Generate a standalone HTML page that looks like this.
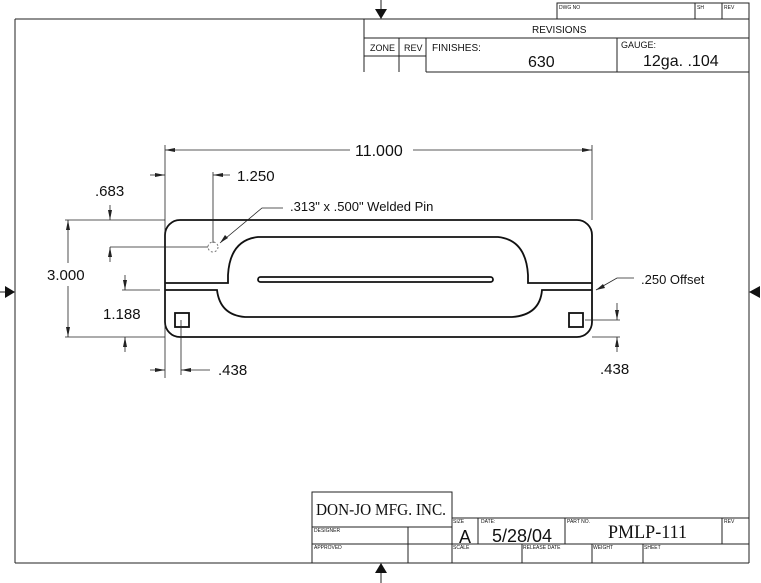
<!DOCTYPE html>
<html><head><meta charset="utf-8"><style>
html,body{margin:0;padding:0;background:#fff;}
svg{display:block;}
text{font-family:"Liberation Sans",sans-serif;fill:#111;}
.c{font-family:"DejaVu Sans Condensed","Liberation Sans",sans-serif;}
.s{font-family:"Liberation Serif",serif;}
</style></head><body>
<svg width="761" height="583" viewBox="0 0 761 583" xmlns="http://www.w3.org/2000/svg">
<g stroke="#222" stroke-width="1" fill="none">
<line x1="15" y1="19" x2="364" y2="19"/>
<line x1="15" y1="19" x2="15" y2="563"/>
<line x1="749" y1="3" x2="749" y2="563"/>
<line x1="15" y1="563" x2="749" y2="563"/>
<rect x="557" y="3" width="192" height="16"/>
<line x1="695" y1="3" x2="695" y2="19"/>
<line x1="722" y1="3" x2="722" y2="19"/>
<line x1="364" y1="19" x2="749" y2="19"/>
<line x1="364" y1="19" x2="364" y2="72"/>
<line x1="364" y1="38" x2="749" y2="38"/>
<line x1="399" y1="38" x2="399" y2="72"/>
<line x1="426" y1="38" x2="426" y2="72"/>
<line x1="617" y1="38" x2="617" y2="72"/>
<line x1="364" y1="56" x2="426" y2="56"/>
<line x1="426" y1="72" x2="749" y2="72"/>
<rect x="312" y="492" width="140" height="35"/>
<line x1="312" y1="527" x2="312" y2="563"/>
<line x1="408" y1="527" x2="408" y2="563"/>
<line x1="452" y1="518" x2="452" y2="563"/>
<line x1="452" y1="518" x2="749" y2="518"/>
<line x1="312" y1="544" x2="749" y2="544"/>
<line x1="478" y1="518" x2="478" y2="544"/>
<line x1="565" y1="518" x2="565" y2="544"/>
<line x1="722" y1="518" x2="722" y2="544"/>
<line x1="522" y1="544" x2="522" y2="563"/>
<line x1="592" y1="544" x2="592" y2="563"/>
<line x1="643" y1="544" x2="643" y2="563"/>
<line x1="381" y1="0" x2="381" y2="10"/>
<line x1="381" y1="572" x2="381" y2="583"/>
<line x1="0" y1="292" x2="6" y2="292"/>
</g>
<g fill="#111">
<polygon points="375,9 387,9 381,19"/>
<polygon points="375,573 387,573 381,563"/>
<polygon points="5,286 5,298 15,292"/>
<polygon points="760,286 760,298 749,292"/>
</g>
<g stroke="#111" stroke-width="1.8" fill="none">
<rect x="165" y="220" width="427" height="117" rx="15"/>
<path d="M165,283 H228 V275 Q230,240 258,237 H498 Q526,240 528,275 V283 H592"/>
<path d="M165,290 H217 Q220,315 245,317 H512 Q540,315 542,290 H592"/>
<rect x="258" y="277" width="235" height="5" rx="2.5"/>
<rect x="175" y="313" width="14" height="14"/>
<rect x="569" y="313" width="14" height="14"/>
</g>
<circle cx="213" cy="247" r="5" fill="none" stroke="#777" stroke-width="1" stroke-dasharray="2,2"/>
<g stroke="#222" stroke-width="0.8" fill="none">
<line x1="165" y1="145" x2="165" y2="378"/>
<line x1="592" y1="145" x2="592" y2="220"/>
<line x1="165" y1="150" x2="350" y2="150"/>
<line x1="413" y1="150" x2="592" y2="150"/>
<line x1="213" y1="172" x2="213" y2="243"/>
<line x1="150" y1="175" x2="165" y2="175"/>
<line x1="213" y1="175" x2="230" y2="175"/>
<line x1="110" y1="247" x2="208" y2="247"/>
<line x1="110" y1="205" x2="110" y2="220"/>
<line x1="110" y1="247" x2="110" y2="262"/>
<line x1="65" y1="220" x2="165" y2="220"/>
<line x1="65" y1="337" x2="165" y2="337"/>
<line x1="68" y1="220" x2="68" y2="263"/>
<line x1="68" y1="286" x2="68" y2="337"/>
<line x1="122" y1="290" x2="160" y2="290"/>
<line x1="125" y1="275" x2="125" y2="290"/>
<line x1="125" y1="337" x2="125" y2="352"/>
<line x1="181" y1="320" x2="181" y2="375"/>
<line x1="150" y1="370" x2="165" y2="370"/>
<line x1="181" y1="370" x2="210" y2="370"/>
<line x1="585" y1="320" x2="620" y2="320"/>
<line x1="592" y1="337" x2="620" y2="337"/>
<line x1="617" y1="303" x2="617" y2="320"/>
<line x1="617" y1="337" x2="617" y2="352"/>
<polyline points="596,290 617,278 634,278"/>
<polyline points="220,243 262,208 283,208"/>
</g>
<g fill="#222">
<polygon points="165,150 175,148 175,152"/>
<polygon points="592,150 582,148 582,152"/>
<polygon points="165,175 155,173 155,177"/>
<polygon points="213,175 223,173 223,177"/>
<polygon points="110,220 108,210 112,210"/>
<polygon points="110,247 108,257 112,257"/>
<polygon points="68,220 66,230 70,230"/>
<polygon points="68,337 66,327 70,327"/>
<polygon points="125,290 123,280 127,280"/>
<polygon points="125,337 123,347 127,347"/>
<polygon points="165,370 155,368 155,372"/>
<polygon points="181,370 191,368 191,372"/>
<polygon points="617,320 615,310 619,310"/>
<polygon points="617,337 615,347 619,347"/>
<polygon points="596,290 603,284 605,288"/>
<polygon points="220,243 225,235 228,238"/>
</g>
<g class="c" font-size="15">
<text x="355" y="156" font-size="16">11.000</text>
<text x="237" y="181">1.250</text>
<text x="95" y="196">.683</text>
<text x="290" y="211" font-size="13">.313" x .500" Welded Pin</text>
<text x="47" y="280">3.000</text>
<text x="103" y="319">1.188</text>
<text x="641" y="284" font-size="13">.250 Offset</text>
<text x="218" y="375">.438</text>
<text x="600" y="374">.438</text>
</g>
<g class="c">
<text x="532" y="33" font-size="10">REVISIONS</text>
<text x="370" y="51" font-size="9">ZONE</text>
<text x="404" y="51" font-size="9">REV</text>
<text x="432" y="51" font-size="10">FINISHES:</text>
<text x="528" y="67" font-size="16">630</text>
<text x="621" y="48" font-size="9">GAUGE:</text>
<text x="643" y="66" font-size="16">12ga. .104</text>
<text x="559" y="9" font-size="5">DWG NO</text>
<text x="697" y="9" font-size="5">SH</text>
<text x="724" y="9" font-size="5">REV</text>
<text x="314" y="532" font-size="5">DESIGNER</text>
<text x="314" y="549" font-size="5">APPROVED</text>
<text x="453" y="523" font-size="5">SIZE</text>
<text x="481" y="523" font-size="5">DATE:</text>
<text x="567" y="523" font-size="5">PART NO.</text>
<text x="724" y="523" font-size="5">REV</text>
<text x="453" y="549" font-size="5">SCALE</text>
<text x="523" y="549" font-size="5">RELEASE DATE</text>
<text x="593" y="549" font-size="5">WEIGHT</text>
<text x="644" y="549" font-size="5">SHEET</text>
<text x="459" y="543" font-size="18">A</text>
<text x="492" y="542" font-size="18">5/28/04</text>
</g>
<text x="316" y="515" class="s" style="font-family:'Liberation Serif',serif" font-size="17" textLength="130" lengthAdjust="spacingAndGlyphs">DON-JO MFG. INC.</text>
<text x="608" y="538" class="s" style="font-family:'Liberation Serif',serif" font-size="19" textLength="79" lengthAdjust="spacingAndGlyphs">PMLP-111</text>
</svg>
</body></html>
